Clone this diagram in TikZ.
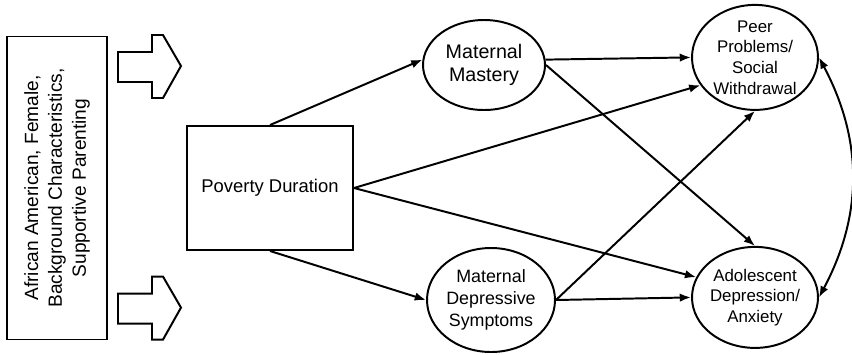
\documentclass[tikz,border=0pt]{standalone}
\usepackage{fontspec}
\setmainfont{Liberation Sans}
\usetikzlibrary{positioning,shapes.geometric,arrows.meta}

\begin{document}
\begin{tikzpicture}[>={Latex[length=8pt,width=6pt]},line width=1.4pt,
  box/.style={draw,rectangle,align=center},
  bubble/.style={draw,ellipse,align=center,inner sep=-4pt,font=\fontsize{12}{14.7}\selectfont}]
\useasboundingbox (0,0) rectangle (21.3,-8.85);
\node[box,minimum width=4.15cm,minimum height=3.1cm,font=\fontsize{13.1}{16}\selectfont](pov) at (6.75,-4.7){Poverty Duration};
\node[box,rotate=90,on grid,left=5.325cm of pov,minimum width=7.575cm,minimum height=2.5cm,font=\fontsize{13.6}{17}\selectfont](bg){African American, Female,\\Background Characteristics,\\Supportive Parenting};
\node[bubble,on grid,above right=3.075cm and 5.35cm of pov,minimum width=3.05cm,minimum height=2.25cm,font=\fontsize{14}{16.4}\selectfont](mast){Maternal\\Mastery};
\node[bubble,on grid,below right=2.8cm and 5.525cm of pov,minimum width=3.2cm,minimum height=2.6cm,font=\fontsize{12.7}{15.4}\selectfont](dep){Maternal\\Depressive\\Symptoms};
\node[bubble,on grid,above right=0.19cm and 6.775cm of mast,minimum width=3.15cm,minimum height=2.625cm](peer){Peer\\Problems/\\Social\\Withdrawal};
\node[bubble,on grid,below=6cm of peer,minimum width=3.15cm,minimum height=2.525cm](ado){Adolescent\\Depression/\\Anxiety};
% block arrows
\foreach \dy in {0,-6.04}
  \draw[yshift=\dy cm] (2.95,-1.3) -- (3.8,-1.3) -- (3.8,-0.875) -- (4.075,-0.875) -- (4.525,-1.65)
    -- (4.075,-2.45) -- (3.8,-2.45) -- (3.8,-2.05) -- (2.95,-2.05) -- cycle;
\path (pov.north) edge[->] (mast.175);
\path (pov.south) edge[->] (dep.west);
\path (pov.east) edge[->] (peer.207);
\path (pov.east) edge[->] (ado.161);
\path (mast.5) edge[->] (peer.west);
\path (mast.east) edge[->] (ado.north);
\path (dep.east) edge[->] (peer.south);
\path (dep.east) edge[->] (ado.west);
\path (peer.east) edge[<->,bend left=28] (ado.east);
\end{tikzpicture}
\end{document}
